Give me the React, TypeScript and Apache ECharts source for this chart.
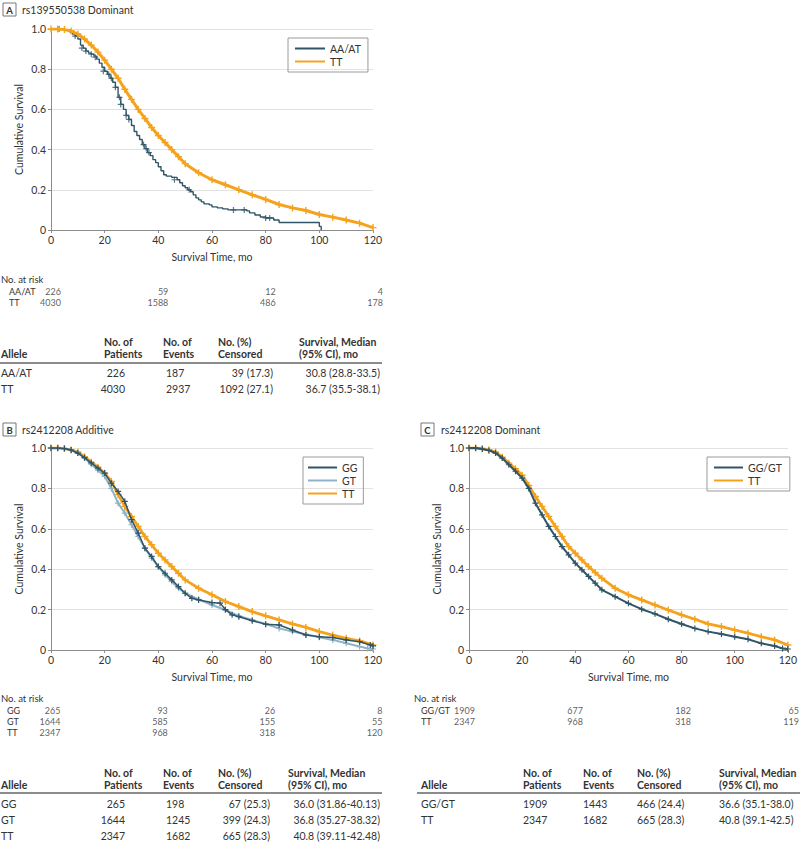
import React, { useEffect, useRef } from 'react';
import * as echarts from 'echarts';

// ---------------- DATA ----------------
const riskTimes = [0, 40, 80, 120];

// Panel A: rs139550538 Dominant
const aNames = ['AA/AT', 'TT'];
const aCurveAAAT: [number, number][] = [
  [0, 1], [4, 1], [5, 0.995], [7, 0.985], [8, 0.975], [9, 0.965], [10, 0.95], [11, 0.92], [12, 0.905],
  [13, 0.89], [14, 0.88], [15, 0.875], [16, 0.865], [17, 0.85], [18, 0.83], [19, 0.81], [20, 0.79],
  [21, 0.775], [22, 0.755], [23, 0.735], [24, 0.71], [25, 0.66], [26, 0.625], [27, 0.6], [28, 0.57],
  [29, 0.55], [30, 0.52], [31, 0.49], [32, 0.47], [33, 0.45], [34, 0.425], [35, 0.405], [36, 0.385],
  [37, 0.37], [38, 0.35], [39, 0.335], [40, 0.315], [41, 0.295], [42, 0.275], [43, 0.268], [45, 0.262],
  [47, 0.25], [48, 0.235], [49, 0.22], [50, 0.21], [51, 0.2], [52, 0.19], [53, 0.175], [54, 0.16],
  [55, 0.15], [56, 0.14], [57, 0.13], [59, 0.125], [60, 0.115], [62, 0.11], [64, 0.105], [66, 0.1],
  [73, 0.095], [74, 0.085], [76, 0.075], [78, 0.065], [80, 0.06], [83, 0.05], [85, 0.037], [99.5, 0.037],
  [100, 0.018], [100.7, 0]
];
const aCensorAAAT: [number, number][] = [
  [3, 1], [9, 0.965], [11.5, 0.905], [13, 0.89], [15, 0.875], [16.5, 0.86], [19.5, 0.79], [21.5, 0.775],
  [22.5, 0.755], [24, 0.71], [25.5, 0.66], [26, 0.625], [28, 0.57], [29, 0.55], [34.5, 0.425],
  [35.5, 0.405], [36.5, 0.385], [46, 0.25], [51.5, 0.2], [68, 0.1], [72, 0.1], [80, 0.06], [81.5, 0.06]
];
const aCurveTT: [number, number][] = [
  [0, 1], [2.5, 1], [5, 0.997], [7.5, 0.99], [10, 0.975], [12.5, 0.95], [15, 0.92], [17.5, 0.885],
  [20, 0.845], [22.5, 0.8], [25, 0.755], [27.5, 0.7], [30, 0.65], [32.5, 0.6], [35, 0.555], [37.5, 0.51],
  [40, 0.47], [42.5, 0.435], [45, 0.4], [47.5, 0.365], [50, 0.33], [55, 0.285], [60, 0.25], [65, 0.225],
  [70, 0.2], [75, 0.175], [80, 0.152], [85, 0.127], [90, 0.11], [95, 0.097], [100, 0.077], [105, 0.064],
  [110, 0.05], [115, 0.034], [120, 0.012]
];
const aRisk = [
  [226, 59, 12, 4],
  [4030, 1588, 486, 178]
];
const aTable = [
  ['AA/AT', '226', '187', '39 (17.3)', '30.8 (28.8-33.5)'],
  ['TT', '4030', '2937', '1092 (27.1)', '36.7 (35.5-38.1)']
];

// Panel B: rs2412208 Additive
const bNames = ['GG', 'GT', 'TT'];
const bCurveGG: [number, number][] = [
  [0, 1], [2.5, 1], [5, 0.997], [7.5, 0.99], [10, 0.975], [12.5, 0.952], [15, 0.926], [17.5, 0.9],
  [20, 0.876], [22.5, 0.826], [25, 0.785], [27.5, 0.736], [30, 0.645], [32.5, 0.579], [35, 0.504],
  [37.5, 0.463], [40, 0.413], [42.5, 0.38], [45, 0.347], [47.5, 0.314], [50, 0.281], [52.5, 0.256],
  [55, 0.248], [60, 0.235], [63, 0.232], [65, 0.2], [67.5, 0.174], [70, 0.165], [75, 0.145], [80, 0.128],
  [85, 0.124], [90, 0.099], [95, 0.074], [100, 0.066], [105, 0.062], [110, 0.05], [115, 0.041],
  [119, 0.025], [120, 0.02]
];
const bCurveGT: [number, number][] = [
  [0, 1], [2.5, 1], [5, 0.997], [7.5, 0.99], [10, 0.975], [12.5, 0.95], [15, 0.92], [17.5, 0.89],
  [20, 0.86], [22.5, 0.8], [25, 0.727], [27.5, 0.678], [30, 0.62], [32.5, 0.562], [35, 0.504],
  [37.5, 0.455], [40, 0.413], [42.5, 0.372], [45, 0.339], [47.5, 0.306], [50, 0.281], [55, 0.251],
  [60, 0.223], [65, 0.198], [70, 0.169], [75, 0.149], [80, 0.129], [85, 0.107], [90, 0.091], [95, 0.078],
  [100, 0.063], [105, 0.05], [110, 0.033], [115, 0.017], [118, 0.008], [120, 0.005]
];
const bCurveTT: [number, number][] = [
  [0, 1], [2.5, 1], [5, 0.997], [7.5, 0.99], [10, 0.98], [12.5, 0.957], [15, 0.93], [17.5, 0.905],
  [20, 0.875], [22.5, 0.835], [25, 0.769], [27.5, 0.711], [30, 0.661], [32.5, 0.612], [35, 0.562],
  [37.5, 0.521], [40, 0.479], [42.5, 0.446], [45, 0.413], [47.5, 0.38], [50, 0.347], [55, 0.306],
  [60, 0.273], [65, 0.24], [70, 0.215], [75, 0.19], [80, 0.169], [85, 0.149], [90, 0.129], [95, 0.112],
  [100, 0.091], [105, 0.074], [110, 0.058], [115, 0.045], [120, 0.025]
];
const bRisk = [
  [265, 93, 26, 8],
  [1644, 585, 155, 55],
  [2347, 968, 318, 120]
];
const bTable = [
  ['GG', '265', '198', '67 (25.3)', '36.0 (31.86-40.13)'],
  ['GT', '1644', '1245', '399 (24.3)', '36.8 (35.27-38.32)'],
  ['TT', '2347', '1682', '665 (28.3)', '40.8 (39.11-42.48)']
];

// Panel C: rs2412208 Dominant
const cNames = ['GG/GT', 'TT'];
const cCurveGGGT: [number, number][] = [
  [0, 1], [2.5, 1], [5, 0.995], [7.5, 0.988], [10, 0.975], [12.5, 0.95], [15, 0.917], [17.5, 0.885],
  [20, 0.851], [22.5, 0.8], [25, 0.727], [27.5, 0.669], [30, 0.612], [32.5, 0.562], [35, 0.512],
  [37.5, 0.471], [40, 0.43], [42.5, 0.397], [45, 0.364], [47.5, 0.331], [50, 0.298], [55, 0.264],
  [60, 0.231], [65, 0.202], [70, 0.179], [75, 0.152], [80, 0.129], [85, 0.107], [90, 0.091], [95, 0.079],
  [100, 0.066], [105, 0.053], [110, 0.033], [115, 0.02], [118, 0.008], [120, 0.005]
];
const cCurveTT: [number, number][] = [
  [0, 1], [2.5, 1], [5, 0.997], [7.5, 0.99], [10, 0.98], [12.5, 0.955], [15, 0.925], [17.5, 0.897],
  [20, 0.865], [22.5, 0.815], [25, 0.76], [27.5, 0.711], [30, 0.661], [32.5, 0.612], [35, 0.562],
  [37.5, 0.512], [40, 0.479], [42.5, 0.446], [45, 0.413], [47.5, 0.384], [50, 0.355], [55, 0.306],
  [60, 0.273], [65, 0.248], [70, 0.223], [75, 0.198], [80, 0.174], [85, 0.152], [90, 0.129], [95, 0.116],
  [100, 0.099], [105, 0.083], [110, 0.066], [115, 0.05], [120, 0.025]
];
const cRisk = [
  [1909, 677, 182, 65],
  [2347, 968, 318, 119]
];
const cTable = [
  ['GG/GT', '1909', '1443', '466 (24.4)', '36.6 (35.1-38.0)'],
  ['TT', '2347', '1682', '665 (28.3)', '40.8 (39.1-42.5)']
];

const tableHeader = [
  ['', 'Allele'],
  ['No. of', 'Patients'],
  ['No. of', 'Events'],
  ['No. (%)', 'Censored'],
  ['Survival, Median', '(95% CI), mo']
];

// ---------------- STYLE ----------------
const FONT = 'Lato, "Noto Sans", sans-serif';
const TXT = '#333';
const AXIS = '#8c8c8c';
const DARK = '#2f5567';
const LIGHT = '#8fb2c6';
const ORANGE = '#f5a21c';
const PLUS = 'path://M4,0H6V4H10V6H6V10H4V6H0V4H4Z';
const FS = 10.5;
const RFS = 9;

function mainX(gridIndex: number) {
  return {
    gridIndex, type: 'value', min: 0, max: 120, interval: 20,
    axisLine: { show: true, lineStyle: { color: AXIS, width: 1 } },
    axisTick: { show: true, length: 3, lineStyle: { color: AXIS } },
    axisLabel: { color: TXT, fontSize: FS, fontFamily: FONT, margin: 4 },
    splitLine: { show: false },
    name: 'Survival Time, mo', nameLocation: 'middle', nameGap: 21,
    nameTextStyle: { color: TXT, fontSize: FS, fontFamily: FONT }
  };
}
function mainY(gridIndex: number) {
  return {
    gridIndex, type: 'value', min: 0, max: 1, interval: 0.2,
    axisLine: { show: true, lineStyle: { color: AXIS, width: 1 } },
    axisTick: { show: true, length: 3, lineStyle: { color: AXIS } },
    axisLabel: { color: TXT, fontSize: FS, fontFamily: FONT, margin: 5,
      formatter: (v: number) => (v === 0 ? '0' : v.toFixed(1)) },
    splitLine: { show: true, lineStyle: { color: '#e2e2e2', width: 1 } },
    name: 'Cumulative Survival', nameLocation: 'middle', nameGap: 27,
    nameTextStyle: { color: TXT, fontSize: FS, fontFamily: FONT }
  };
}
function riskX(gridIndex: number) {
  return { gridIndex, type: 'value', min: 0, max: 120, show: false };
}
function riskY(gridIndex: number, names: string[], margin: number) {
  return {
    gridIndex, type: 'category', inverse: true, data: names,
    axisLine: { show: false }, axisTick: { show: false }, splitLine: { show: false },
    axisLabel: { show: true, interval: 0, align: 'left', margin, color: TXT, fontSize: RFS,
      lineHeight: 10, fontFamily: FONT }
  };
}
function curve(name: string, data: [number, number][], color: string, idx: number, width: number,
  marks: boolean, z: number, size = 6, step?: string) {
  return {
    type: 'line', name, data, xAxisIndex: idx, yAxisIndex: idx,
    step: step || false, showSymbol: marks, symbol: PLUS, symbolSize: size,
    lineStyle: { color, width }, itemStyle: { color }, z, silent: true, smooth: false
  };
}
function censor(name: string, data: [number, number][], color: string, idx: number, z: number) {
  return {
    type: 'scatter', name, data, xAxisIndex: idx, yAxisIndex: idx, symbol: PLUS, symbolSize: 6,
    itemStyle: { color }, z, silent: true
  };
}
function risk(name: string, rows: number[][], idx: number, off: number) {
  const data: any[] = [];
  rows.forEach((r, ri) => r.forEach((v, ti) => data.push([riskTimes[ti], ri, v])));
  return {
    type: 'scatter', name, data, xAxisIndex: idx, yAxisIndex: idx, symbolSize: 1,
    itemStyle: { color: 'rgba(0,0,0,0)' }, silent: true,
    label: { show: true, position: 'inside', align: 'right', offset: [off, 0], color: TXT,
      fontSize: RFS, lineHeight: 10, fontFamily: FONT, formatter: (p: any) => String(p.value[2]) }
  };
}
function legend(names: string[], left: number, top: number, itemWidth: number, padding: number[]) {
  return {
    data: names, left, top, orient: 'vertical', icon: 'rect', itemWidth, itemHeight: 2, itemGap: 2,
    padding, borderColor: '#9a9a9a', borderWidth: 1, selectedMode: false,
    textStyle: { color: TXT, fontSize: FS, fontFamily: FONT }
  };
}
function txt(text: string, x: number, y: number, align = 'left', size = FS, weight = 'normal') {
  return {
    type: 'text', x, y, silent: true,
    style: { text, fill: TXT, font: `${weight} ${size}px ${FONT}`, align, verticalAlign: 'middle' }
  };
}
function hline(x1: number, x2: number, y: number, color: string, w: number) {
  return { type: 'line', silent: true, shape: { x1, y1: y, x2, y2: y }, style: { stroke: color, lineWidth: w } };
}
function title(letter: string, text: string, bx: number, by: number, tx: number) {
  return [
    { type: 'rect', silent: true, shape: { x: bx, y: by, width: 13, height: 13 }, style: { fill: '#fff', stroke: '#777', lineWidth: 1 } },
    txt(letter, bx + 6.5, by + 7, 'center', 9.5, 'bold'),
    txt(text, tx, by + 6.5, 'left', 10.5)
  ];
}
type Col = { hx: number; vx: number; al: string };
function table(rows: string[][], cols: Col[], yH1: number, yH2: number, yLine: number, yRow0: number, step: number, x0: number, x1: number) {
  const g: any[] = [];
  tableHeader.forEach((h, i) => {
    if (h[0]) g.push(txt(h[0], cols[i].hx, yH1, 'left', FS, 'bold'));
    g.push(txt(h[1], cols[i].hx, yH2, 'left', FS, 'bold'));
  });
  g.push(hline(x0, x1, yLine, '#666', 1.5));
  rows.forEach((r, ri) => {
    const y = yRow0 + ri * step;
    r.forEach((v, ci) => g.push(txt(v, cols[ci].vx, y, cols[ci].al, FS)));
  });
  return g;
}

export default function App() {
  const ref = useRef<HTMLDivElement>(null);
  useEffect(() => {
    if (!ref.current) return;
    const chart = echarts.init(ref.current, undefined, { renderer: 'svg' });
    const colsAB = (cens: number, survH: number): Col[] => [
      { hx: 1, vx: 1, al: 'left' }, { hx: 104, vx: 125, al: 'right' }, { hx: 163, vx: 166, al: 'left' },
      { hx: 218, vx: cens, al: 'right' }, { hx: survH, vx: 380, al: 'right' }
    ];
    const colsC: Col[] = [
      { hx: 421, vx: 421, al: 'left' }, { hx: 523, vx: 523, al: 'left' }, { hx: 583, vx: 583, al: 'left' },
      { hx: 637, vx: 637, al: 'left' }, { hx: 719, vx: 719, al: 'left' }
    ];
    const graphics = [
      ...title('A', 'rs139550538 Dominant', 3, 3, 22),
      ...title('B', 'rs2412208 Additive', 3, 423, 22),
      ...title('C', 'rs2412208 Dominant', 421, 423, 441),
      txt('No. at risk', 1, 279.5, 'left', 9.5),
      txt('No. at risk', 1, 698.5, 'left', 9.5),
      txt('No. at risk', 414, 698.5, 'left', 9.5)
    ].concat(
      table(aTable, colsAB(273, 299), 342, 354, 363, 373, 15.5, 0, 382),
      table(bTable, colsAB(270, 288), 773, 785, 793, 804, 16, 0, 382),
      table(cTable, colsC, 773, 785, 793, 804, 16, 417, 800)
    );
    chart.setOption({
      animation: false,
      textStyle: { fontFamily: FONT },
      grid: [
        { left: 51, right: 427, top: 29, bottom: 613 },
        { left: 51, right: 427, top: 448, bottom: 193 },
        { left: 469, right: 7, top: 448, bottom: 193 },
        { left: 51, right: 427, top: 285.5, height: 22 },
        { left: 51, right: 427, top: 704.5, height: 33 },
        { left: 469, right: 7, top: 704.5, height: 22 }
      ],
      xAxis: [mainX(0), mainX(1), mainX(2), riskX(3), riskX(4), riskX(5)],
      yAxis: [mainY(0), mainY(1), mainY(2), riskY(3, aNames, 42), riskY(4, bNames, 44), riskY(5, cNames, 48)],
      legend: [
        legend(aNames, 288, 38, 30, [5, 7, 5, 7]),
        legend(bNames, 303, 457, 29, [5, 6, 5, 5]),
        legend(cNames, 707, 457, 29, [5, 8, 5, 7])
      ],
      series: [
        curve('AA/AT', aCurveAAAT, DARK, 0, 1.4, false, 2, 6, 'end'),
        censor('AA/AT censored', aCensorAAAT, DARK, 0, 3),
        curve('TT', aCurveTT, ORANGE, 0, 3, true, 4, 7),
        curve('TT', bCurveTT, ORANGE, 1, 2.8, true, 2, 7),
        curve('GT', bCurveGT, LIGHT, 1, 2, true, 3, 6),
        curve('GG', bCurveGG, DARK, 1, 1.5, true, 4, 6),
        curve('TT', cCurveTT, ORANGE, 2, 2.8, true, 2, 7),
        curve('GG/GT', cCurveGGGT, DARK, 2, 2, true, 3, 6),
        risk('riskA', aRisk, 3, 10),
        risk('riskB', bRisk, 4, 9.5),
        risk('riskC', cRisk, 5, 6)
      ],
      graphic: graphics
    });
    return () => chart.dispose();
  }, []);
  return <div ref={ref} style={{ position: 'absolute', left: 0, top: 0, width: 800, height: 843, background: '#fff' }} />;
}
